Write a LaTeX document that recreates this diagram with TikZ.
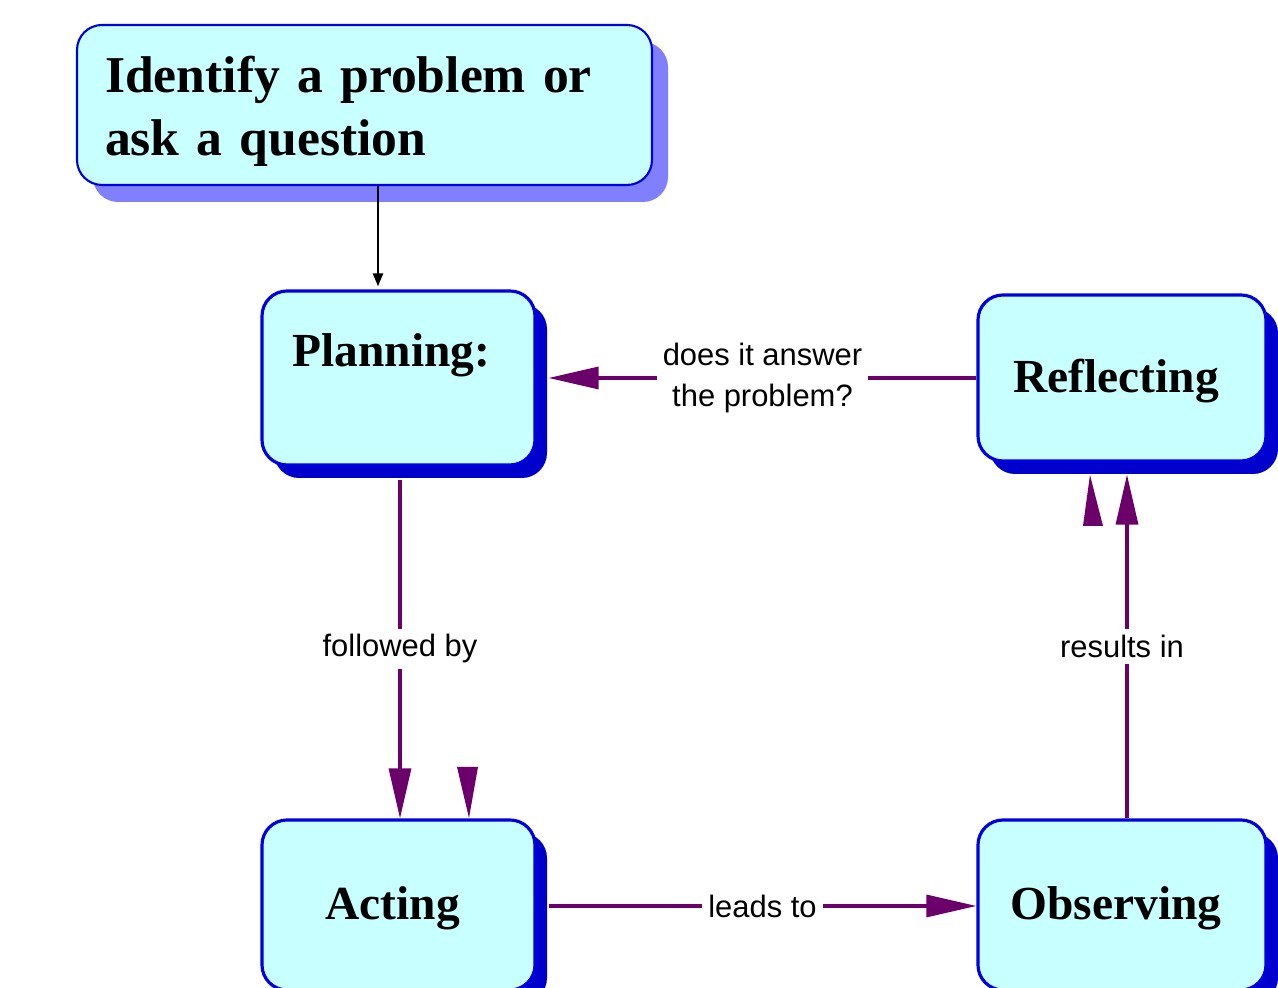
\documentclass[tikz,border=0pt]{standalone}
\usepackage{fontspec}
\setmainfont{Liberation Serif}
\setsansfont{Liberation Sans}
\usetikzlibrary{shadows,arrows.meta,positioning}
\definecolor{boxfill}{HTML}{C8FFFF}
\definecolor{boxline}{HTML}{0000E0}
\definecolor{boxshade}{HTML}{0000CC}
\definecolor{softshade}{HTML}{8080FF}
\definecolor{linkpurple}{HTML}{6B006B}

\begin{document}
\begin{tikzpicture}[
    base block/.style={draw=boxline, fill=boxfill, line width=0.9pt, rounded corners=0.25cm, align=center, font=\fontsize{13.5}{16}\selectfont\bfseries},
    stage block/.style={base block, copy shadow={shadow xshift=0.12cm, shadow yshift=-0.13cm, fill=boxshade, draw=none}},
    single title/.style={text height=11.5pt, text depth=3pt},
    start block/.style={base block, line width=0.6pt, copy shadow={shadow xshift=0.16cm, shadow yshift=-0.17cm, fill=softshade, draw=none}},
    link/.style={draw=linkpurple, line width=0.9pt, -{Triangle[length=0.5cm,width=0.22cm]}},
    link label/.style={fill=white, font=\sffamily\fontsize{8.8}{11.4}\selectfont, align=center, inner sep=0.06cm},
    stray tip/.style={fill=linkpurple}]
    \useasboundingbox (0,0) rectangle (12.78,9.88);

    \node[start block, minimum width=5.75cm, minimum height=1.6cm, text width=5.19cm, align=left, text height=14pt, font=\fontsize{14.7}{17.9}\selectfont\bfseries] (idf) at (3.645,8.83) {Identify a problem or\\ask a question};
    \node[stage block, minimum width=2.73cm, minimum height=1.74cm] (plan) at (3.985,6.10) {Planning:\hspace*{4pt}\\ \mbox{}};
    \node[stage block, single title, minimum width=2.88cm, minimum height=1.66cm] (refl) at (11.22,6.10) {Reflecting\hspace*{3.4pt}};
    \node[stage block, single title, minimum width=2.73cm, minimum height=1.70cm] (act) at (3.985,0.83) {Acting\hspace*{3.4pt}};
    \node[stage block, single title, minimum width=2.88cm, minimum height=1.70cm] (obs) at (11.22,0.83) {Observing\hspace*{3.4pt}};

    \draw[line width=0.6pt, -{Triangle[length=0.13cm,width=0.1cm]}] ([xshift=0.135cm]idf.south) -- ([xshift=0.135cm, yshift=0.03cm]idf.south |- plan.north);
    \draw[link] (refl.west) -- node[link label] (q) {does it answer\\the problem?} ([xshift=0.12cm]plan.east);
    \draw[link] ([xshift=0.015cm, yshift=-0.13cm]plan.south) -- node[link label] (f) {followed by} ([xshift=0.015cm]plan.south |- act.north);
    \draw[link] ([xshift=0.12cm, yshift=-0.01cm]act.east) -- node[link label] (l) {leads to} ([yshift=-0.01cm]obs.west);
    \draw[link] ([xshift=0.05cm]obs.north) -- node[link label, xshift=-0.05cm] (r) {results in} ([xshift=0.05cm, yshift=-0.12cm]refl.south);

    % loose arrow heads
    \fill[stray tip] (4.57,2.21) -- (4.78,2.21) -- (4.69,1.70) -- cycle;
    \fill[stray tip] (10.83,4.62) -- (11.03,4.62) -- (10.90,5.13) -- cycle;
\end{tikzpicture}
\end{document}
